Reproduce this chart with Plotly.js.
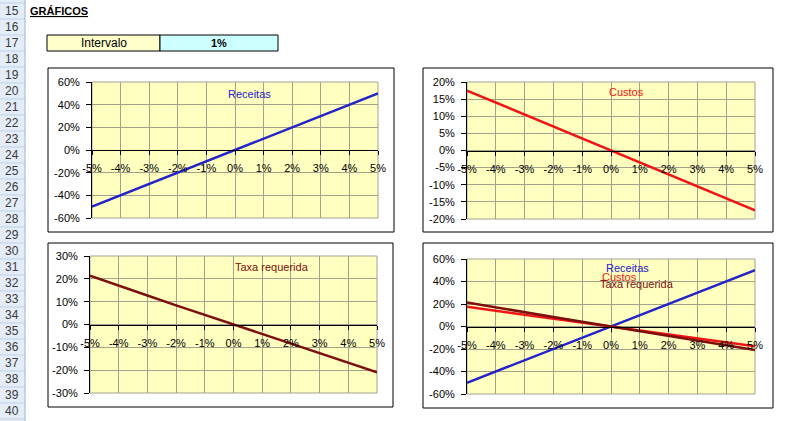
<!DOCTYPE html>
<html>
<head>
<meta charset="utf-8">
<script src="https://cdn.plot.ly/plotly-3.0.1.min.js"></script>
<style>
html,body{margin:0;padding:0;background:#fff;}
#chart{width:785px;height:421px;}
</style>
</head>
<body>
<div id="chart"></div>
<script>
// ---- data ----
const xPct = [-5, -4, -3, -2, -1, 0, 1, 2, 3, 4, 5];
const xTickLabels = ['-5%', '-4%', '-3%', '-2%', '-1%', '0%', '1%', '2%', '3%', '4%', '5%'];
const receitas = [-50, -40, -30, -20, -10, 0, 10, 20, 30, 40, 50];
const custos = [17.5, 14, 10.5, 7, 3.5, 0, -3.5, -7, -10.5, -14, -17.5];
const taxa = [21.4, 16.9, 12.7, 8.4, 4.2, 0, -4.2, -8.4, -12.6, -16.8, -20.9];
const yTicks60 = [-60, -40, -20, 0, 20, 40, 60];
const yTickLabels60 = ['-60%', '-40%', '-20%', '0%', '20%', '40%', '60%'];
const yTicks20 = [-20, -15, -10, -5, 0, 5, 10, 15, 20];
const yTickLabels20 = ['-20%', '-15%', '-10%', '-5%', '0%', '5%', '10%', '15%', '20%'];
const yTicks30 = [-30, -20, -10, 0, 10, 20, 30];
const yTickLabels30 = ['-30%', '-20%', '-10%', '0%', '10%', '20%', '30%'];
const rowNumbers = [15,16,17,18,19,20,21,22,23,24,25,26,27,28,29,30,31,32,33,34,35,36,37,38,39,40];
const seriesNames = ['Receitas', 'Custos', 'Taxa requerida'];
const sheetTitle = 'GRÁFICOS';
const intervaloLabel = 'Intervalo';
const intervaloValue = '1%';

// ---- geometry helpers ----
const W = 785, H = 421;
const px = v => v / W;
const py = v => 1 - v / H;

const BLUE = '#2323c8', RED = '#f01414', DRED = '#7d0f0f';
const GRID = '#a3a18c';
const FONT = 'Liberation Sans, Arial, sans-serif';

const plots = [
  {x: [92, 378], y: [82, 218], yr: [-60, 60], tv: yTicks60, tt: yTickLabels60},
  {x: [467, 755], y: [82, 219], yr: [-20, 20], tv: yTicks20, tt: yTickLabels20},
  {x: [90, 377], y: [256, 393], yr: [-30, 30], tv: yTicks30, tt: yTickLabels30},
  {x: [467, 755], y: [259, 394], yr: [-60, 60], tv: yTicks60, tt: yTickLabels60}
];
const boxes = [
  [48, 68, 394, 232],
  [423, 68, 773, 232],
  [48, 243, 393, 407],
  [423, 243, 773, 408]
];

const layout = {
  width: W, height: H,
  margin: {l: 0, r: 0, t: 0, b: 0},
  paper_bgcolor: '#ffffff',
  plot_bgcolor: '#ffffc0',
  showlegend: false,
  font: {family: FONT, size: 11, color: '#000'},
  shapes: [],
  annotations: []
};

plots.forEach((p, i) => {
  const n = i === 0 ? '' : String(i + 1);
  const ymid = (py(p.y[0]) + py(p.y[1])) / 2;
  layout['xaxis' + n] = {
    domain: [px(p.x[0]), px(p.x[1])],
    range: [-5, 5], tickmode: 'array', tickvals: xPct, ticktext: xTickLabels,
    anchor: 'free', position: ymid,
    showgrid: true, gridcolor: GRID, gridwidth: 1,
    zeroline: false, showline: true, linecolor: '#000', linewidth: 1,
    ticks: 'outside', ticklen: 4, tickcolor: '#000',
    ticklabelstandoff: 4,
    tickfont: {family: FONT, size: 11, color: '#000'},
    fixedrange: true
  };
  layout['yaxis' + n] = {
    domain: [py(p.y[1]), py(p.y[0])],
    range: p.yr, tickmode: 'array', tickvals: p.tv, ticktext: p.tt,
    anchor: 'x' + n, side: 'left',
    showgrid: true, gridcolor: GRID, gridwidth: 1,
    zeroline: false, showline: true, linecolor: '#000', linewidth: 1,
    ticks: 'outside', ticklen: 5, tickcolor: '#000',
    ticklabelstandoff: 4,
    tickfont: {family: FONT, size: 11, color: '#000'},
    fixedrange: true
  };
  layout.shapes.push({type: 'rect', xref: 'paper', yref: 'paper', layer: 'below',
    x0: px(p.x[0]), x1: px(p.x[1]), y0: py(p.y[1]), y1: py(p.y[0]),
    line: {color: GRID, width: 1}});
});

boxes.forEach(b => {
  layout.shapes.push({type: 'rect', xref: 'paper', yref: 'paper', layer: 'below',
    x0: px(b[0]), x1: px(b[2]), y0: py(b[3]), y1: py(b[1]),
    line: {color: '#000', width: 1}});
});

// row header
layout.shapes.push({type: 'rect', xref: 'paper', yref: 'paper', layer: 'below',
  x0: 0, x1: px(25), y0: 0, y1: 1, fillcolor: '#e4ecf7', line: {width: 0}});
for (let k = 0; k <= rowNumbers.length; k++) {
  const yy = 3 + 16 * k;
  layout.shapes.push({type: 'line', xref: 'paper', yref: 'paper', layer: 'below',
    x0: 0, x1: px(25), y0: py(yy), y1: py(yy), line: {color: '#c3d1e3', width: 1}});
}
layout.shapes.push({type: 'line', xref: 'paper', yref: 'paper', layer: 'below',
  x0: px(25), x1: px(25), y0: 0, y1: 1, line: {color: '#9eb6ce', width: 1}});
rowNumbers.forEach((r, k) => {
  layout.annotations.push({xref: 'paper', yref: 'paper', x: px(21), y: py(11 + 16 * k),
    xanchor: 'right', yanchor: 'middle', showarrow: false, text: String(r),
    font: {family: FONT, size: 12, color: '#3a3a3a'}});
});

// title cell
layout.annotations.push({xref: 'paper', yref: 'paper', x: px(28), y: py(11),
  xanchor: 'left', yanchor: 'middle', showarrow: false,
  text: '<b><u>' + sheetTitle + '</u></b>', font: {family: FONT, size: 11, color: '#000'}});

// Intervalo cells
layout.shapes.push({type: 'rect', xref: 'paper', yref: 'paper', layer: 'below',
  x0: px(47), x1: px(160), y0: py(51), y1: py(35), fillcolor: '#ffffcc', line: {color: '#000', width: 1}});
layout.shapes.push({type: 'rect', xref: 'paper', yref: 'paper', layer: 'below',
  x0: px(160), x1: px(278), y0: py(51), y1: py(35), fillcolor: '#ccffff', line: {color: '#000', width: 1}});
layout.annotations.push({xref: 'paper', yref: 'paper', x: px(103.5), y: py(43),
  xanchor: 'center', yanchor: 'middle', showarrow: false, text: intervaloLabel,
  font: {family: FONT, size: 12, color: '#000'}});
layout.annotations.push({xref: 'paper', yref: 'paper', x: px(219), y: py(43),
  xanchor: 'center', yanchor: 'middle', showarrow: false, text: '<b>' + intervaloValue + '</b>',
  font: {family: FONT, size: 11, color: '#000'}});

// series labels inside plots
function lab(ax, x, y, text, color) {
  layout.annotations.push({xref: 'x' + ax, yref: 'y' + ax, x: x, y: y, text: text,
    showarrow: false, xanchor: 'center', yanchor: 'middle',
    font: {family: FONT, size: 11, color: color}});
}
lab('', 0.5, 49, seriesNames[0], BLUE);
lab('2', 0.55, 17, seriesNames[1], RED);
lab('3', 1.35, 25, seriesNames[2], DRED);
lab('4', 0.56, 52, seriesNames[0], BLUE);
lab('4', 0.28, 44, seriesNames[1], RED);
lab('4', 0.9, 38, seriesNames[2], DRED);

function tr(ax, y, color, name) {
  return {x: xPct, y: y, type: 'scatter', mode: 'lines', name: name,
    xaxis: 'x' + ax, yaxis: 'y' + ax, line: {color: color, width: 2.5},
    hoverinfo: 'skip'};
}
const data = [
  tr('', receitas, BLUE, seriesNames[0]),
  tr('2', custos, RED, seriesNames[1]),
  tr('3', taxa, DRED, seriesNames[2]),
  tr('4', receitas, BLUE, seriesNames[0]),
  tr('4', custos, RED, seriesNames[1]),
  tr('4', taxa, DRED, seriesNames[2])
];

Plotly.newPlot('chart', data, layout, {staticPlot: true, displayModeBar: false});
</script>
</body>
</html>
